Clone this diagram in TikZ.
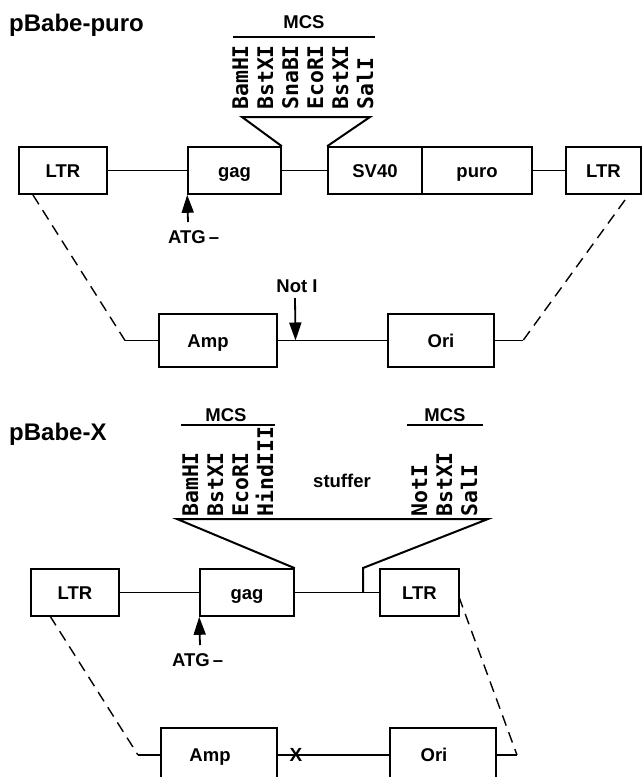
\documentclass[tikz,border=0pt]{standalone}
\usepackage{fontspec}
\setmainfont{Liberation Sans}
\newfontfamily\encfont{DejaVu Sans Mono}
\usetikzlibrary{arrows.meta,calc}
\begin{document}
\begin{tikzpicture}[x=1pt,y=-1pt,
  lab/.style={font=\fontsize{18.5}{20}\selectfont\bfseries, inner sep=0pt},
  box/.style={draw, line width=1.6pt, inner sep=0pt, text height=13.2pt, text depth=0pt,
    font=\fontsize{18.5}{20}\selectfont\bfseries},
  ttl/.style={font=\fontsize{24}{26}\selectfont\bfseries, inner sep=0pt, anchor=base west},
  enz/.style={font=\fontsize{21.5}{22}\selectfont\encfont\bfseries, inner sep=0pt, rotate=90, anchor=base west},
  conn/.style={line width=1.4pt},
  dsh/.style={line width=1.4pt, dash pattern=on 11pt off 7pt},
  ins/.style={line width=2pt},
  arr/.style={line width=1.8pt, -{Triangle[length=18pt,width=12pt]}},
]
\clip (0,0) rectangle (643,777);

% ---------------- pBabe-puro ----------------
\node[ttl] (t1) at (9,31) {pBabe-puro};
\node[lab] (mcs1) at (304,22.5) {MCS};
\coordinate (m1a) at (233,37); \coordinate (m1b) at (375,37);
\draw[ins] (m1a) -- (m1b);
\foreach \x/\t in {248/BamHI,273/BstXI,298/SnaBI,323/EcoRI,348/BstXI,373/SalI}
  \node[enz] (ea\x) at (\x,110) {\t};

\node[box, minimum width=88pt, minimum height=47pt] (ltrA) at (63,170.5) {LTR};
\node[box, minimum width=93pt, minimum height=47pt] (gagA) at (234.5,170.5) {gag};
\node[box, minimum width=94pt, minimum height=47pt] (sv40) at (375,170.5) {SV40};
\node[box, minimum width=110pt, minimum height=47pt] (puro) at (477,170.5) {puro};
\node[box, minimum width=75pt, minimum height=47pt] (ltrB) at (603.5,170.5) {LTR};
\draw[conn] (ltrA) -- (gagA);
\draw[conn] (gagA) -- (sv40);
\draw[conn] (puro) -- (ltrB);

\coordinate (p1) at (242,117); \coordinate (p2) at (370,117);
\draw[ins] (gagA.north east) -- (p1) -- (p2) -- (sv40.north west);

\coordinate (atgA) at (188,222);
\draw[arr] (atgA) -- (gagA.south west);
\node[lab, anchor=base west] (atgAt) at (168,243) {ATG\,–};

\node[box, minimum width=118pt, minimum height=53pt] (ampA) at (218,340.5) {\kern-20pt Amp};
\node[box, minimum width=106pt, minimum height=53pt] (oriA) at (441,340.5) {Ori};
\draw[conn] (ampA) -- (oriA);
\coordinate (notA) at (295,298);
\coordinate (notB) at ($(ampA.east)!0.162!(oriA.west)$);
\draw[arr] (notA) -- (notB);
\node[lab] (noti) at (297,286) {Not I};

\coordinate (dl1) at (33,195); \coordinate (dl2) at (125,340.5);
\draw[dsh] (dl1) -- (dl2); \draw[conn] (dl2) -- (ampA.west);
\coordinate (dr1) at (625,200); \coordinate (dr2) at (523,340.5);
\draw[dsh] (dr1) -- (dr2); \draw[conn] (dr2) -- (oriA.east);

% ---------------- pBabe-X ----------------
\node[ttl] (t2) at (9,440) {pBabe-X};
\node[lab] (mcs2) at (226,415) {MCS};
\coordinate (m2a) at (181,425); \coordinate (m2b) at (275,425);
\draw[ins] (m2a) -- (m2b);
\node[lab] (mcs3) at (445,415) {MCS};
\coordinate (m3a) at (407,425); \coordinate (m3b) at (483,425);
\draw[ins] (m3a) -- (m3b);
\foreach \x/\t in {198/BamHI,223/BstXI,248/EcoRI,273/HindIII,427/NotI,452/BstXI,477/SalI}
  \node[enz] (eb\x) at (\x,517) {\t};
\node[lab] (stuff) at (342,481) {stuffer};

\node[box, minimum width=88pt, minimum height=47pt] (ltrC) at (75,592.5) {LTR};
\node[box, minimum width=94pt, minimum height=47pt] (gagB) at (247,592.5) {gag};
\node[box, minimum width=79pt, minimum height=47pt] (ltrD) at (419.5,592.5) {LTR};
\draw[conn] (ltrC) -- (gagB);
\draw[conn] (gagB) -- (ltrD);

\coordinate (q1) at (177,519); \coordinate (q2) at (488,519);
\coordinate (q3) at (363,568); \coordinate (q4) at (363,592.5);
\draw[ins] (gagB.north east) -- (q1) -- (q2) -- (q3) -- (q4);

\coordinate (atgB) at (200,645);
\draw[arr] (atgB) -- (gagB.south west);
\node[lab, anchor=base west] (atgBt) at (172,666.5) {ATG\,–};

\node[box, minimum width=116pt, minimum height=54pt] (ampB) at (219,755) {\kern-18pt Amp};
\node[box, minimum width=106pt, minimum height=54pt] (oriB) at (443,755) {\kern-18pt Ori};
\draw[conn] (ampB) -- (oriB);
\node[lab, font=\fontsize{19}{20}\selectfont\bfseries] (xm) at (296,755) {X};

\coordinate (dl3) at (50,616); \coordinate (dl4) at (138,755);
\draw[dsh] (dl3) -- (dl4); \draw[conn] (dl4) -- (ampB.west);
\coordinate (dr3) at (459,597); \coordinate (dr4) at (517,755);
\draw[dsh] (dr3) -- (dr4); \draw[conn] (dr4) -- (oriB.east);
\end{tikzpicture}
\end{document}
